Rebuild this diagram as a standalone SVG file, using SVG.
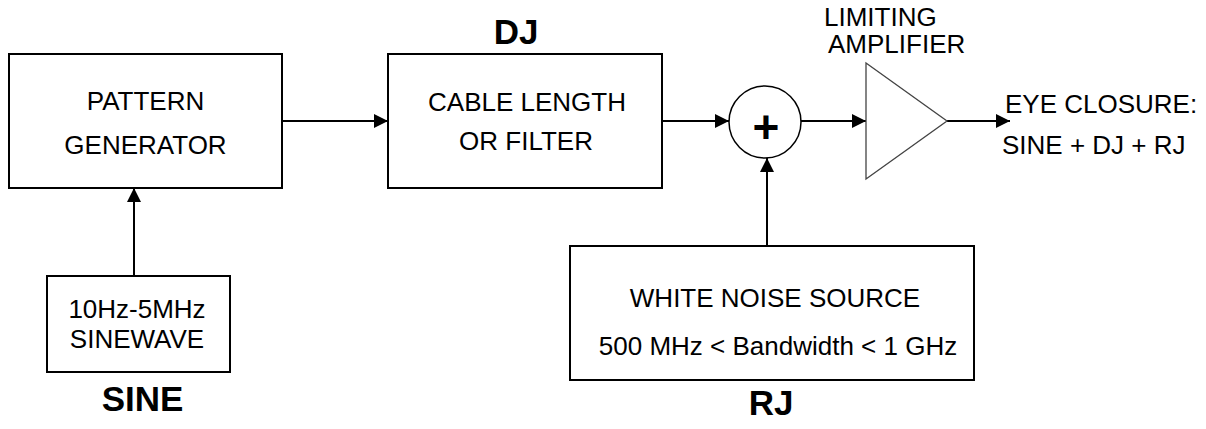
<svg xmlns="http://www.w3.org/2000/svg" width="1206" height="429" viewBox="0 0 1206 429">
<defs>
<style>
.box{fill:#fff;stroke:#000;stroke-width:2}
.t{font-family:"Liberation Sans",Arial,sans-serif;font-size:26px;fill:#000}
.c{text-anchor:middle}
.b{font-family:"Liberation Sans",Arial,sans-serif;font-size:35px;font-weight:bold;fill:#000;text-anchor:middle}
.wire{stroke:#000;stroke-width:2;fill:none;marker-end:url(#arr)}
</style>
<marker id="arr" markerUnits="userSpaceOnUse" markerWidth="14" markerHeight="14" refX="14" refY="7" orient="auto">
<path d="M0,0 L14,7 L0,14 z" fill="#000"/>
</marker>
</defs>
<rect width="1206" height="429" fill="#fff"/>
<g id="connectors">
<line class="wire" x1="282" y1="121" x2="388" y2="121"/>
<line class="wire" x1="662" y1="121" x2="729" y2="121"/>
<line class="wire" x1="801" y1="121" x2="866" y2="121"/>
<line class="wire" x1="947" y1="121" x2="1010" y2="121"/>
<line class="wire" x1="134" y1="276" x2="134" y2="188"/>
<line class="wire" x1="767" y1="246" x2="767" y2="158"/>
</g>
<g id="pattern-generator">
<rect class="box" x="9" y="54" width="273" height="134"/>
<text class="t c" x="145.5" y="110">PATTERN</text>
<text class="t c" x="145.5" y="154">GENERATOR</text>
</g>
<g id="cable">
<rect class="box" x="388" y="54" width="274" height="134"/>
<text class="t c" x="527" y="111">CABLE LENGTH</text>
<text class="t c" x="526" y="150">OR FILTER</text>
<text class="b" x="516" y="44">DJ</text>
</g>
<g id="sinewave">
<rect class="box" x="47" y="276" width="183" height="96"/>
<text class="t c" x="137" y="318">10Hz-5MHz</text>
<text class="t c" x="137" y="348">SINEWAVE</text>
<text class="b" x="142.5" y="411">SINE</text>
</g>
<g id="summer">
<circle cx="765" cy="122" r="36" fill="#fff" stroke="#000" stroke-width="1.5"/>
<text class="b" x="766" y="143" style="font-size:46px">+</text>
</g>
<g id="noise">
<rect class="box" x="570" y="246" width="404" height="134"/>
<text class="t c" x="775" y="307">WHITE NOISE SOURCE</text>
<text class="t c" x="778" y="355">500 MHz &lt; Bandwidth &lt; 1 GHz</text>
<text class="b" x="771" y="415">RJ</text>
</g>
<g id="amplifier">
<polygon points="866,63 866,179 947,121" fill="#fff" stroke="#444" stroke-width="1.3"/>
<text class="t" x="824" y="26">LIMITING</text>
<text class="t" x="828" y="53">AMPLIFIER</text>
</g>
<g id="output">
<text class="t" x="1005" y="113">EYE CLOSURE:</text>
<text class="t" x="1002" y="154">SINE + DJ + RJ</text>
</g>
</svg>
